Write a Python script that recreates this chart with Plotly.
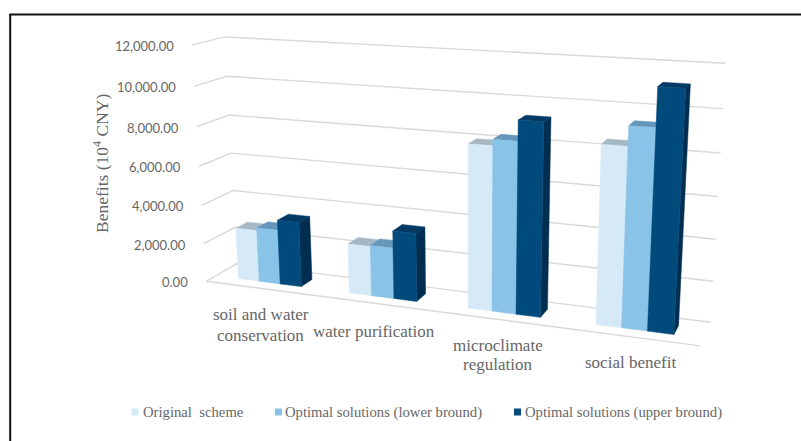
import numpy as np
import plotly.graph_objects as go

categories = ["soil and water<br>conservation", "water purification",
              "microclimate<br>regulation", "social benefit"]
series_names = ["Original  scheme", "Optimal solutions (lower bround)",
                "Optimal solutions (upper bround)"]
original = [2680, 2520, 8000, 8460]
lower = [2815, 2570, 8300, 9380]
upper = [3340, 3430, 9280, 11170]
tick_values = [0, 2000, 4000, 6000, 8000, 10000, 12000]
tick_labels = ["0.00", "2,000.00", "4,000.00", "6,000.00", "8,000.00", "10,000.00", "12,000.00"]

W, H = 801, 441
VMAX = 12000
NC = len(categories)

# Oblique view of the chart box: value axis on the front-left edge maps linearly
# on to the Plotly y axis, category axis on to the Plotly x axis.
view = [
    ((0, 0, 12000), (192, 45)), ((0, 0, 10000), (194, 86)), ((0, 0, 8000), (197, 127)),
    ((0, 0, 6000), (199, 166)), ((0, 0, 4000), (202, 205)), ((0, 0, 2000), (204, 244)),
    ((0, 0, 0), (206, 281)),
    ((0, 1, 12000), (225, 37)), ((0, 1, 10000), (227, 76)), ((0, 1, 8000), (229, 115)),
    ((0, 1, 6000), (231, 153)), ((0, 1, 4000), (233, 191)),
    ((4, 1, 12000), (725.5, 63)), ((4, 1, 10000), (723, 108.7)), ((4, 1, 8000), (720.5, 153)),
    ((4, 1, 6000), (718, 196.7)), ((4, 1, 4000), (716, 239.7)), ((4, 1, 2000), (713, 281)),
    ((4, 1, 0), (711, 322)), ((4, 0, 0), (700, 346)),
]
rows = []
for (u, d, v), (px, py) in view:
    w = [u, d, v / VMAX, 1]
    rows.append(w + [0, 0, 0, 0] + [-px * a for a in w])
    rows.append([0, 0, 0, 0] + w + [-py * a for a in w])
P = np.linalg.svd(np.array(rows, float))[2][-1].reshape(3, 4)


def to_px(u, d, v):
    a = P @ np.array([u, d, v / VMAX, 1.0])
    return a[0] / a[2], a[1] / a[2]


def ax_x(px):
    return (px - 206) / (700 - 206) * NC


def ax_y(py):
    return (281 - py) / 235 * VMAX


def project(pts):
    xy = [to_px(*p) for p in pts]
    return [ax_x(a) for a, _ in xy], [ax_y(b) for _, b in xy]


GRID = "#D9D9D9"
TEXT = "#666666"
SERIF = "Liberation Serif"
fig = go.Figure()

# wall and floor gridlines
gx, gy = [], []
for v in tick_values:
    x, y = project([(0, 0, v), (0, 1, v), (NC, 1, v)])
    gx += x + [None]
    gy += y + [None]
x, y = project([(0, 0, 0), (NC, 0, 0)])
gx += x
gy += y
fig.add_trace(go.Scatter(x=gx, y=gy, mode="lines", line=dict(color=GRID, width=1.4),
                         hoverinfo="skip", showlegend=False))

# bars
GAP = 0.2125
BAR = 0.1917
D0, D1 = 0.31, 0.69
colours = [
    dict(front="#D6E9F7", top="#A6B8C4", side="#A8C0D2"),
    dict(front="#8AC3E8", top="#6696BA", side="#6A9CC0"),
    dict(front="#004A7C", top="#003A64", side="#012E50"),
]
for i in range(NC):
    for j, values in enumerate([original, lower, upper]):
        v = values[i]
        u0 = i + GAP + j * BAR
        u1 = u0 + BAR
        c = colours[j]
        faces = [
            ("side", [(u1, D0, 0), (u1, D1, 0), (u1, D1, v), (u1, D0, v)]),
            ("top", [(u0, D0, v), (u1, D0, v), (u1, D1, v), (u0, D1, v)]),
            ("front", [(u0, D0, 0), (u1, D0, 0), (u1, D0, v), (u0, D0, v)]),
        ]
        for face, pts in faces:
            x, y = project(pts)
            fig.add_trace(go.Scatter(
                x=x + x[:1], y=y + y[:1], mode="lines", fill="toself",
                fillcolor=c[face], line=dict(color=c[face], width=0.5),
                name=series_names[j], showlegend=False,
                hovertemplate=f"{series_names[j]}: {v:,.2f}<extra></extra>"))

annotations = []
# value-axis labels
for v, lab in zip(tick_values, tick_labels):
    px, py = to_px(0, 0, v)
    annotations.append(dict(x=(px - 16) / W, y=1 - (py + 1) / H, xref="paper", yref="paper",
                            text=lab, showarrow=False, xanchor="right", yanchor="middle",
                            font=dict(family="Lato", size=13, color=TEXT)))
# category labels, one annotation per line so the leading matches
cat_pos = [(260.5, (314.5, 335)), (374, (331,)), (498, (345, 364.5)), (630, (362,))]
for lab, (px, ys) in zip(categories, cat_pos):
    for line, py in zip(lab.split("<br>"), ys):
        annotations.append(dict(x=px / W, y=1 - py / H, xref="paper", yref="paper", text=line,
                                showarrow=False, xanchor="center", yanchor="middle",
                                font=dict(family=SERIF, size=17, color=TEXT)))
# axis title
annotations.append(dict(x=101 / W, y=1 - 164 / H, xref="paper", yref="paper",
                        text="Benefits (10<sup>4</sup> CNY)", textangle=-90, showarrow=False,
                        xanchor="center", yanchor="middle",
                        font=dict(family=SERIF, size=17.5, color=TEXT)))
# legend
legend_pos = [(135, 141), (278.5, 283), (517.5, 523)]
for name, c, (mx, tx) in zip(series_names, colours, legend_pos):
    fig.add_trace(go.Scatter(x=[ax_x(mx)], y=[ax_y(412)], mode="markers",
                             marker=dict(symbol="square", size=7, color=c["front"]),
                             hoverinfo="skip", showlegend=False))
    annotations.append(dict(x=tx / W, y=1 - 412 / H, xref="paper", yref="paper", text=name,
                            showarrow=False, xanchor="left", yanchor="middle",
                            font=dict(family=SERIF, size=14.7, color=TEXT)))

shapes = [
    dict(type="line", xref="paper", yref="paper", x0=10.2 / W, x1=10.2 / W, y0=0, y1=1 - 14 / H,
         line=dict(color="#111111", width=2)),
    dict(type="line", xref="paper", yref="paper", x0=9.5 / W, x1=1, y0=1 - 14.5 / H, y1=1 - 14.5 / H,
         line=dict(color="#111111", width=2)),
]

fig.update_layout(
    width=W, height=H, margin=dict(l=0, r=0, t=0, b=0),
    paper_bgcolor="white", plot_bgcolor="white", showlegend=False,
    xaxis=dict(range=[ax_x(0), ax_x(W)], visible=False, fixedrange=True),
    yaxis=dict(range=[ax_y(H), ax_y(0)], visible=False, fixedrange=True),
    annotations=annotations, shapes=shapes,
)
fig.write_html("out.html", config=dict(displayModeBar=False),
               post_script="document.body.style.margin='0';document.body.style.overflow='hidden';")
